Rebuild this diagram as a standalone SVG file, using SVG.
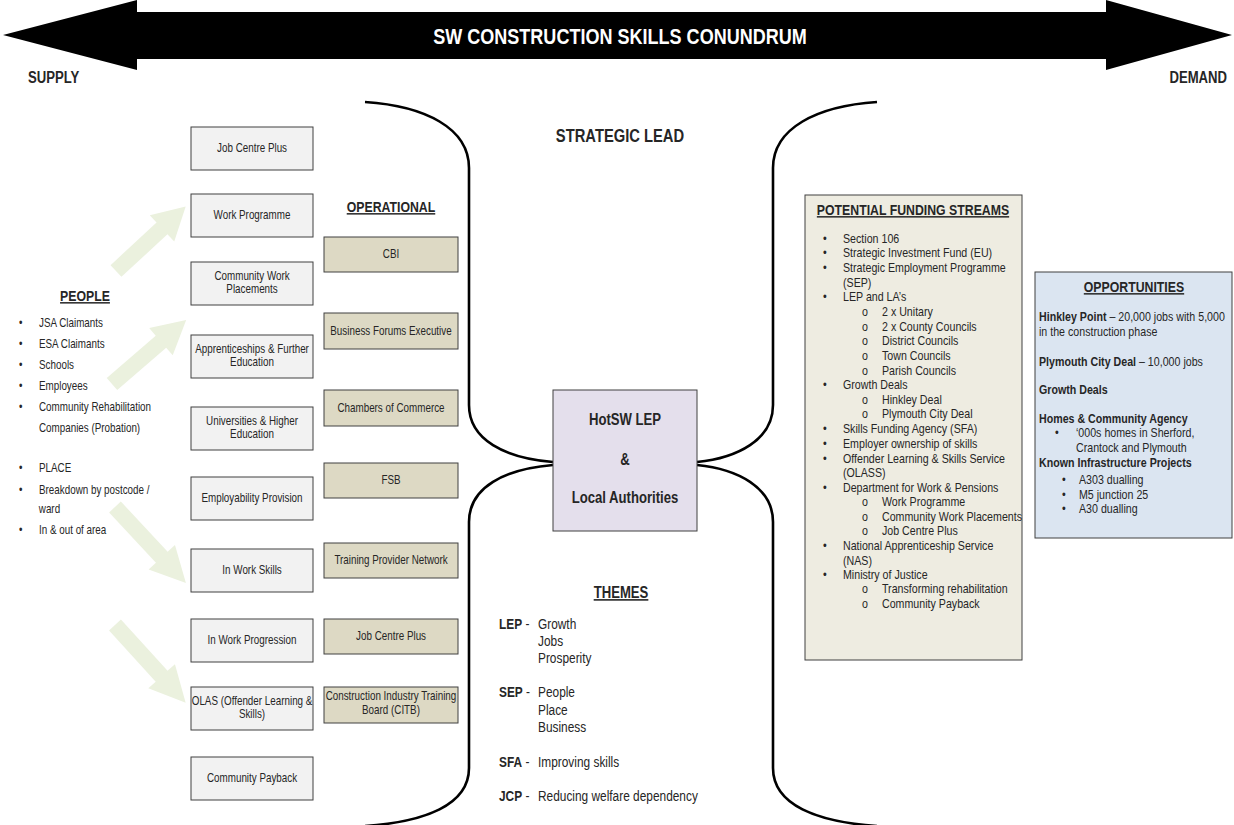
<svg xmlns="http://www.w3.org/2000/svg" xmlns:xlink="http://www.w3.org/1999/xlink" width="1234" height="825" viewBox="0 0 1234 825">
<style>
text{font-family:"Liberation Sans",Arial,sans-serif;fill:#262626;transform:scaleX(.82);transform-box:fill-box;transform-origin:0 0}
.c,.h,.m{text-anchor:middle;transform-origin:50% 0}
.e{text-anchor:end;transform-origin:100% 0}
.bx{fill:#f2f2f2;stroke:#404040;stroke-width:1}
.op{fill:#ddd9c4;stroke:#404040;stroke-width:1}
.c{font-size:12px}
.h{font-size:15px;font-weight:bold;text-decoration:underline}
.l{font-size:12px}
.f{font-size:13px}
.th{font-size:14.5px}
.b{font-weight:bold}
.ln{fill:none;stroke:#000;stroke-width:2.6}
.ga{fill:#ebf1de}
</style>
<defs>
<path id="garrow" d="M0,-8 L66,-8 L66,-18 L100,0 L66,18 L66,8 L0,8 Z"/>
</defs>
<rect width="1234" height="825" fill="#fff"/>

<g id="banner">
<polygon points="3,35 137,0 137,12 1106,12 1106,0 1232,35 1106,70 1106,59 137,59 137,70" fill="#000"/>
<text x="620" y="44" class="m" style="font-size:22px;font-weight:bold;fill:#fff">SW CONSTRUCTION SKILLS CONUNDRUM</text>
<text x="28" y="83" style="font-size:16px;font-weight:bold">SUPPLY</text>
<text x="1227" y="83" class="e" style="font-size:16px;font-weight:bold">DEMAND</text>
</g>

<g id="connectors">
<path class="ln" d="M365,102 C425,106 469,128 469,168 L469,405 C469,440 505,458 553,462"/>
<path class="ln" d="M553,465 C505,469 469,487 469,522 L469,768 C469,805 425,822 365,826"/>
<path class="ln" d="M877,102 C817,106 773,128 773,168 L773,405 C773,440 737,458 697,462"/>
<path class="ln" d="M697,465 C737,469 773,487 773,522 L773,768 C773,805 817,822 877,826"/>
<use href="#garrow" class="ga" transform="translate(116,271) rotate(-42.8) scale(0.95,1)"/>
<use href="#garrow" class="ga" transform="translate(112,384) rotate(-40.8) scale(0.98,1)"/>
<use href="#garrow" class="ga" transform="translate(115,507) rotate(47) scale(1.04,1)"/>
<use href="#garrow" class="ga" transform="translate(115,625) rotate(47.7) scale(1.05,1)"/>
</g>

<g id="strategic-lead">
<text x="620" y="142" class="m" style="font-size:18px;font-weight:bold">STRATEGIC LEAD</text>
</g>

<g id="people">
<text x="85" y="301" class="h">PEOPLE</text>
<g class="l">
<text x="19" y="327">•</text><text x="39" y="327">JSA Claimants</text>
<text x="19" y="348">•</text><text x="39" y="348">ESA Claimants</text>
<text x="19" y="369">•</text><text x="39" y="369">Schools</text>
<text x="19" y="390">•</text><text x="39" y="390">Employees</text>
<text x="19" y="411">•</text><text x="39" y="411">Community Rehabilitation</text>
<text x="39" y="432">Companies (Probation)</text>
<text x="19" y="472">•</text><text x="39" y="472">PLACE</text>
<text x="19" y="494">•</text><text x="39" y="494">Breakdown by postcode /</text>
<text x="39" y="513">ward</text>
<text x="19" y="534">•</text><text x="39" y="534">In &amp; out of area</text>
</g>
</g>

<g id="sup-jcp"><rect class="bx" x="191" y="127" width="122" height="43"/><text class="c" x="252" y="152.5">Job Centre Plus</text></g>
<g id="sup-wp"><rect class="bx" x="191" y="194" width="122" height="43"/><text class="c" x="252" y="219.5">Work Programme</text></g>
<g id="sup-cwp"><rect class="bx" x="191" y="262" width="122" height="43"/><text class="c" x="252" y="280">Community Work</text><text class="c" x="252" y="293">Placements</text></g>
<g id="sup-app"><rect class="bx" x="191" y="335" width="122" height="43"/><text class="c" x="252" y="353">Apprenticeships &amp; Further</text><text class="c" x="252" y="366">Education</text></g>
<g id="sup-uni"><rect class="bx" x="191" y="407" width="122" height="43"/><text class="c" x="252" y="425">Universities &amp; Higher</text><text class="c" x="252" y="438">Education</text></g>
<g id="sup-ep"><rect class="bx" x="191" y="477" width="122" height="43"/><text class="c" x="252" y="502.5">Employability Provision</text></g>
<g id="sup-iws"><rect class="bx" x="191" y="549" width="122" height="43"/><text class="c" x="252" y="574.5">In Work Skills</text></g>
<g id="sup-iwp"><rect class="bx" x="191" y="619" width="122" height="43"/><text class="c" x="252" y="644.5">In Work Progression</text></g>
<g id="sup-olas"><rect class="bx" x="191" y="687" width="122" height="43"/><text class="c" x="252" y="705">OLAS (Offender Learning &amp;</text><text class="c" x="252" y="718">Skills)</text></g>
<g id="sup-cp"><rect class="bx" x="191" y="757" width="122" height="43"/><text class="c" x="252" y="782.5">Community Payback</text></g>

<g id="operational-title"><text x="391" y="212" class="h">OPERATIONAL</text></g>
<g id="op-cbi"><rect class="op" x="324" y="237" width="134" height="35"/><text class="c" x="391" y="258.5">CBI</text></g>
<g id="op-bfe"><rect class="op" x="324" y="313" width="134" height="36"/><text class="c" x="391" y="335">Business Forums Executive</text></g>
<g id="op-coc"><rect class="op" x="324" y="390" width="134" height="36"/><text class="c" x="391" y="412">Chambers of Commerce</text></g>
<g id="op-fsb"><rect class="op" x="324" y="463" width="134" height="35"/><text class="c" x="391" y="484.5">FSB</text></g>
<g id="op-tpn"><rect class="op" x="324" y="543" width="134" height="35"/><text class="c" x="391" y="564.5">Training Provider Network</text></g>
<g id="op-jcp"><rect class="op" x="324" y="619" width="134" height="35"/><text class="c" x="391" y="640.5">Job Centre Plus</text></g>
<g id="op-citb"><rect class="op" x="324" y="687" width="134" height="36"/><text class="c" x="391" y="700">Construction Industry Training</text><text class="c" x="391" y="714">Board (CITB)</text></g>

<g id="centre">
<rect x="553" y="390" width="144" height="141" fill="#e4dfec" stroke="#404040" stroke-width="1"/>
<text x="625" y="425" class="m" style="font-size:16px;font-weight:bold">HotSW LEP</text>
<text x="625" y="465" class="m" style="font-size:16px;font-weight:bold">&amp;</text>
<text x="625" y="503" class="m" style="font-size:16px;font-weight:bold">Local Authorities</text>
</g>

<g id="themes">
<text x="621" y="598" class="h" style="font-size:16px">THEMES</text>
<g class="th">
<text x="499" y="629"><tspan class="b">LEP</tspan> -</text><text x="538" y="629">Growth</text>
<text x="538" y="646">Jobs</text>
<text x="538" y="663">Prosperity</text>
<text x="499" y="697"><tspan class="b">SEP</tspan> -</text><text x="538" y="697">People</text>
<text x="538" y="715">Place</text>
<text x="538" y="732">Business</text>
<text x="499" y="767"><tspan class="b">SFA</tspan> -</text><text x="538" y="767">Improving skills</text>
<text x="499" y="801"><tspan class="b">JCP</tspan> -</text><text x="538" y="801">Reducing welfare dependency</text>
</g>
</g>

<g id="funding">
<rect x="805" y="195" width="217" height="465" fill="#eeece1" stroke="#404040" stroke-width="1"/>
<text x="913" y="215" class="h">POTENTIAL FUNDING STREAMS</text>
<g class="f">
<text x="823" y="243.5">•</text><text x="843" y="243.5">Section 106</text>
<text x="823" y="257.5">•</text><text x="843" y="257.5">Strategic Investment Fund (EU)</text>
<text x="823" y="272.5">•</text><text x="843" y="272.5">Strategic Employment Programme</text>
<text x="843" y="287.5">(SEP)</text>
<text x="823" y="301.5">•</text><text x="843" y="301.5">LEP and LA’s</text>
<text x="862" y="316.5">o</text><text x="882" y="316.5">2 x Unitary</text>
<text x="862" y="331.5">o</text><text x="882" y="331.5">2 x County Councils</text>
<text x="862" y="345.5">o</text><text x="882" y="345.5">District Councils</text>
<text x="862" y="360.5">o</text><text x="882" y="360.5">Town Councils</text>
<text x="862" y="375.5">o</text><text x="882" y="375.5">Parish Councils</text>
<text x="823" y="389.5">•</text><text x="843" y="389.5">Growth Deals</text>
<text x="862" y="404.5">o</text><text x="882" y="404.5">Hinkley Deal</text>
<text x="862" y="418.5">o</text><text x="882" y="418.5">Plymouth City Deal</text>
<text x="823" y="433.5">•</text><text x="843" y="433.5">Skills Funding Agency (SFA)</text>
<text x="823" y="448.5">•</text><text x="843" y="448.5">Employer ownership of skills</text>
<text x="823" y="463.5">•</text><text x="843" y="463.5">Offender Learning &amp; Skills Service</text>
<text x="843" y="477.5">(OLASS)</text>
<text x="823" y="492.5">•</text><text x="843" y="492.5">Department for Work &amp; Pensions</text>
<text x="862" y="506.5">o</text><text x="882" y="506.5">Work Programme</text>
<text x="862" y="521.5">o</text><text x="882" y="521.5">Community Work Placements</text>
<text x="862" y="535.5">o</text><text x="882" y="535.5">Job Centre Plus</text>
<text x="823" y="550.5">•</text><text x="843" y="550.5">National Apprenticeship Service</text>
<text x="843" y="565.5">(NAS)</text>
<text x="823" y="579.5">•</text><text x="843" y="579.5">Ministry of Justice</text>
<text x="862" y="593.5">o</text><text x="882" y="593.5">Transforming rehabilitation</text>
<text x="862" y="608.5">o</text><text x="882" y="608.5">Community Payback</text>
</g>
</g>

<g id="opportunities">
<rect x="1035" y="272" width="197" height="266" fill="#dbe5f1" stroke="#404040" stroke-width="1"/>
<text x="1134" y="292" class="h">OPPORTUNITIES</text>
<g class="f">
<text x="1039" y="321.5"><tspan class="b">Hinkley Point</tspan> – 20,000 jobs with 5,000</text>
<text x="1039" y="336.5">in the construction phase</text>
<text x="1039" y="366.5"><tspan class="b">Plymouth City Deal</tspan> – 10,000 jobs</text>
<text x="1039" y="394.5" class="b">Growth Deals</text>
<text x="1039" y="423.5" class="b">Homes &amp; Community Agency</text>
<text x="1055" y="437.5">•</text><text x="1076" y="437.5">‘000s homes in Sherford,</text>
<text x="1076" y="452.5">Crantock and Plymouth</text>
<text x="1039" y="467.5" class="b">Known Infrastructure Projects</text>
<text x="1062" y="484.5">•</text><text x="1079" y="484.5">A303 dualling</text>
<text x="1062" y="499">•</text><text x="1079" y="499">M5 junction 25</text>
<text x="1062" y="513.5">•</text><text x="1079" y="513.5">A30 dualling</text>
</g>
</g>
</svg>
